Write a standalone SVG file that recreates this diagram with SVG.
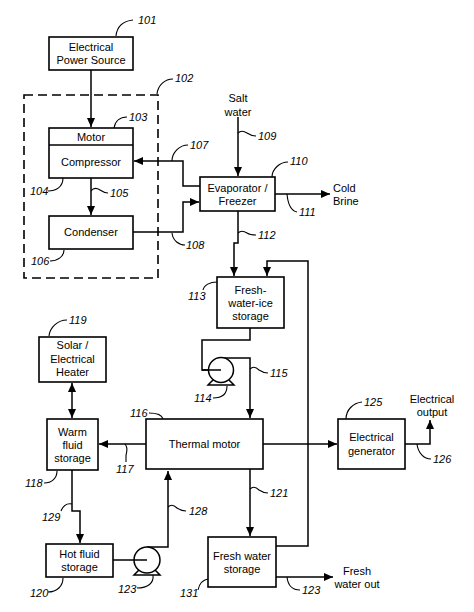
<svg xmlns="http://www.w3.org/2000/svg" width="474" height="612" viewBox="0 0 474 612">
<style>
.box{fill:#fff;stroke:#000;stroke-width:1.6}
.ln{fill:none;stroke:#000;stroke-width:1.5}
.ld{fill:none;stroke:#000;stroke-width:1.1}
.t{font-family:"Liberation Sans",Arial,sans-serif;font-size:11px;fill:#000;text-anchor:middle}
.tl{font-family:"Liberation Sans",Arial,sans-serif;font-size:11px;fill:#000}
.n{font-family:"Liberation Sans",Arial,sans-serif;font-size:11px;font-style:italic;fill:#000}
</style>
<defs>
<marker id="ah" markerUnits="userSpaceOnUse" markerWidth="10" markerHeight="8" refX="9" refY="4" orient="auto-start-reverse">
<path d="M0,0 L9,4 L0,8 z" fill="#000"/>
</marker>
</defs>
<rect width="474" height="612" fill="#fff"/>

<g id="connectors">
<path class="ln" d="M91,70 V127" marker-end="url(#ah)"/>
<path class="ln" d="M91,178 V215" marker-end="url(#ah)"/>
<path class="ln" d="M200,186 H183 V161 H134" marker-end="url(#ah)"/>
<path class="ln" d="M133,232 H183 V202 H199" marker-end="url(#ah)"/>
<path class="ln" d="M238,117 V176" marker-end="url(#ah)"/>
<path class="ln" d="M275,194 H330" marker-end="url(#ah)"/>
<path class="ln" d="M238,211 V243 H234 V276" marker-end="url(#ah)"/>
<path class="ln" d="M276,546 H308 V261 H267 V276" marker-end="url(#ah)"/>
<path class="ln" d="M250,328 V340 H202 V370 H221"/>
<path class="ln" d="M221,358 H250 V418" marker-end="url(#ah)"/>
<path class="ln" d="M146,444 H99" marker-end="url(#ah)"/>
<path class="ln" d="M72,383 V418" marker-start="url(#ah)" marker-end="url(#ah)"/>
<path class="ln" d="M72,470 V511 H80 V543" marker-end="url(#ah)"/>
<path class="ln" d="M113,560 H147"/>
<path class="ln" d="M147,547 H168 V471" marker-end="url(#ah)"/>
<path class="ln" d="M263,444 H337" marker-end="url(#ah)"/>
<path class="ln" d="M405,444 H430 V420" marker-end="url(#ah)"/>
<path class="ln" d="M250,469 V536" marker-end="url(#ah)"/>
<path class="ln" d="M276,577 H333" marker-end="url(#ah)"/>
</g>

<g id="leaders">
<path class="ld" d="M116,36 C117,26 124,21 133,20"/>
<path class="ld" d="M157,94 C158,85 165,79 173,79"/>
<path class="ld" d="M114,128 C115,121 120,117 127,117"/>
<path class="ld" d="M63,178 C63,187 56,191 48,191"/>
<path class="ld" d="M91,191 C94,187 97,188 100,190 C103,192 105,193 108,193"/>
<path class="ld" d="M64,250 C64,257 57,261 50,261"/>
<path class="ld" d="M172,161 C172,152 180,145 188,145"/>
<path class="ld" d="M172,233 C173,241 179,245 185,245"/>
<path class="ld" d="M238,133 C241,130 244,131 247,133 C250,135 253,136 256,136"/>
<path class="ld" d="M272,177 C272,169 280,162 288,162"/>
<path class="ld" d="M287,194 C288,205 292,211 297,212"/>
<path class="ld" d="M238,233 C241,230 244,231 247,233 C250,235 253,235 256,235"/>
<path class="ld" d="M203,290 C204,285 210,282 217,282"/>
<path class="ld" d="M227,386 C227,394 223,398 213,398"/>
<path class="ld" d="M250,369 C253,366 256,367 259,370 C262,372 265,373 268,373"/>
<path class="ld" d="M149,413 C156,413 162,415 163,419"/>
<path class="ld" d="M125,444 C129,449 126,452 126,456 L126,462"/>
<path class="ld" d="M57,471 C57,478 52,483 44,483"/>
<path class="ld" d="M49,336 C50,327 58,320 67,320"/>
<path class="ld" d="M63,578 C63,586 57,592 48,592"/>
<path class="ld" d="M250,489 C253,486 256,487 259,490 C262,492 265,493 268,493"/>
<path class="ld" d="M153,575 C154,583 148,588 137,588"/>
<path class="ld" d="M287,577 C288,586 293,590 300,590"/>
<path class="ld" d="M346,419 C346,410 353,403 362,402"/>
<path class="ld" d="M417,444 C418,453 424,459 431,459"/>
<path class="ld" d="M168,507 C171,504 174,505 177,508 C180,510 183,511 186,511"/>
<path class="ld" d="M72,504 C67,503 63,506 61,511"/>
<path class="ld" d="M208,579 C202,580 199,585 198,590"/>
</g>

<g id="n101"><rect class="box" x="49" y="37" width="84" height="33"/><text class="t" x="91" y="51">Electrical</text><text class="t" x="91" y="64">Power Source</text><text class="n" x="138" y="24">101</text></g>
<g id="n102"><rect x="24" y="95" width="134" height="183" fill="none" stroke="#000" stroke-width="1.6" stroke-dasharray="9,5"/><text class="n" x="175" y="82">102</text></g>
<g id="n103"><rect class="box" x="49" y="128" width="84" height="50"/><line class="ln" x1="49" y1="145" x2="133" y2="145"/><text class="t" x="91" y="141">Motor</text><text class="t" x="91" y="166">Compressor</text><text class="n" x="129" y="121">103</text><text class="n" x="30" y="195">104</text><text class="n" x="110" y="197">105</text></g>
<g id="n106"><rect class="box" x="49" y="216" width="84" height="33"/><text class="t" x="91" y="236">Condenser</text><text class="n" x="31" y="265">106</text></g>
<g id="labels107"><text class="n" x="190" y="149">107</text><text class="n" x="186" y="249">108</text></g>
<g id="salt"><text class="t" x="238" y="102">Salt</text><text class="t" x="238" y="116">water</text><text class="n" x="258" y="140">109</text></g>
<g id="n110"><rect class="box" x="200" y="177" width="75" height="34"/><text class="t" x="237.5" y="192">Evaporator /</text><text class="t" x="237.5" y="205">Freezer</text><text class="n" x="290" y="165">110</text></g>
<g id="brine"><text class="tl" x="333" y="192">Cold</text><text class="tl" x="333" y="205">Brine</text><text class="n" x="299" y="216">111</text><text class="n" x="258" y="239">112</text></g>
<g id="n113"><rect class="box" x="217" y="277" width="67" height="51"/><text class="t" x="250.5" y="294">Fresh-</text><text class="t" x="250.5" y="307">water-ice</text><text class="t" x="250.5" y="320">storage</text><text class="n" x="188" y="300">113</text></g>
<g id="n114"><circle cx="221" cy="370" r="12.5" fill="#fff" stroke="#000" stroke-width="1.5"/><line class="ln" x1="202" y1="370" x2="221" y2="370"/><path class="ln" d="M213,380 L208,385 H234 L229,380"/><text class="n" x="194" y="402">114</text><text class="n" x="270" y="377">115</text></g>
<g id="n116"><rect class="box" x="146" y="419" width="117" height="50"/><text class="t" x="204.5" y="448">Thermal motor</text><text class="n" x="130" y="417">116</text><text class="n" x="116" y="473">117</text></g>
<g id="n118"><rect class="box" x="47" y="419" width="51" height="51"/><text class="t" x="72.5" y="436">Warm</text><text class="t" x="72.5" y="449">fluid</text><text class="t" x="72.5" y="462">storage</text><text class="n" x="25" y="487">118</text></g>
<g id="n119"><rect class="box" x="39" y="337" width="67" height="45"/><text class="t" x="72.5" y="349">Solar /</text><text class="t" x="72.5" y="363">Electrical</text><text class="t" x="72.5" y="376">Heater</text><text class="n" x="69" y="324">119</text></g>
<g id="n120"><rect class="box" x="46" y="544" width="67" height="33"/><text class="t" x="79.5" y="558">Hot fluid</text><text class="t" x="79.5" y="571">storage</text><text class="n" x="30" y="597">120</text><text class="n" x="42" y="521">129</text></g>
<g id="n123"><circle cx="147" cy="560" r="13" fill="#fff" stroke="#000" stroke-width="1.5"/><line class="ln" x1="134" y1="560" x2="147" y2="560"/><path class="ln" d="M139,570 L134,575 H160 L155,570"/><text class="n" x="118" y="593">123</text><text class="n" x="189" y="515">128</text></g>
<g id="n125"><rect class="box" x="338" y="419" width="67" height="50"/><text class="t" x="371.5" y="441">Electrical</text><text class="t" x="371.5" y="455">generator</text><text class="n" x="364" y="406">125</text></g>
<g id="output"><text class="t" x="432" y="403">Electrical</text><text class="t" x="432" y="416">output</text><text class="n" x="433" y="463">126</text></g>
<g id="n131"><rect class="box" x="208" y="537" width="68" height="50"/><text class="t" x="242" y="560">Fresh water</text><text class="t" x="242" y="573">storage</text><text class="n" x="180" y="597">131</text><text class="n" x="270" y="497">121</text></g>
<g id="waterout"><text class="t" x="357" y="575">Fresh</text><text class="t" x="357" y="588">water out</text><text class="n" x="302" y="594">123</text></g>
</svg>
